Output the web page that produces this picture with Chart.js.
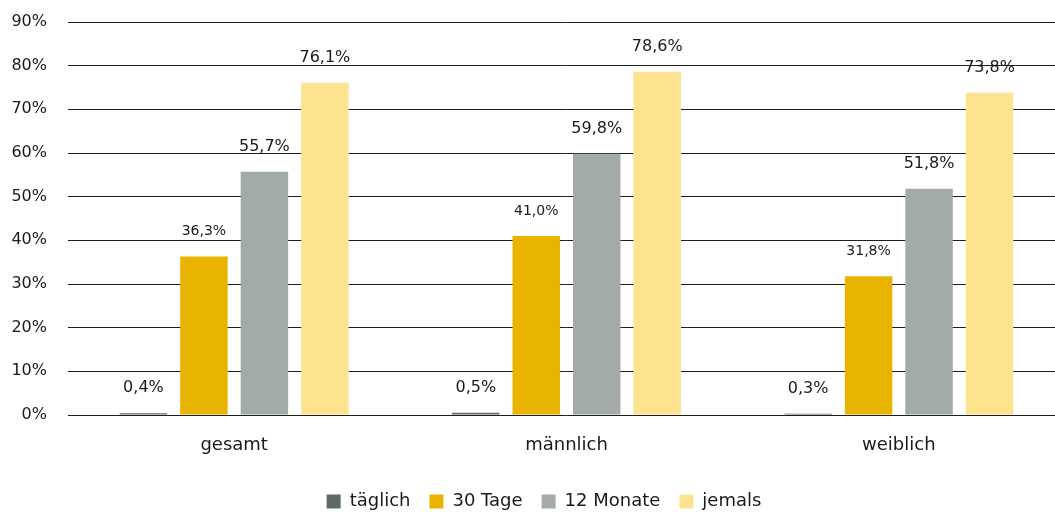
<!DOCTYPE html>
<html lang="de">
<head>
    <meta charset="UTF-8">
    <title>Konsum - gesamt, männlich, weiblich</title>
    <script src="https://cdn.jsdelivr.net/npm/chart.js@4.4.3/dist/chart.umd.min.js"></script>
    <style>
        html, body { margin: 0; padding: 0; background: #ffffff; overflow: hidden; }
        /* plot runs slightly past the right edge, as in the original */
        .chart-box { width: 1065px; height: 512px; }
    </style>
</head>
<body>
    <div class="chart-box">
        <canvas id="chart"></canvas>
    </div>
    <script>
        // Data
        const categories = ['gesamt', 'männlich', 'weiblich'];
        const seriesNames = ['täglich', '30 Tage', '12 Monate', 'jemals'];
        const taeglich = [0.4, 0.5, 0.3];
        const tage30 = [36.3, 41.0, 31.8];
        const monate12 = [55.7, 59.8, 51.8];
        const jemals = [76.1, 78.6, 73.8];
        const yTicks = [0, 10, 20, 30, 40, 50, 60, 70, 80, 90];

        const colors = ['#5f6b62', '#e8b400', '#a3aba6', '#fde38f'];
        const labelSizes = [16, 14, 16, 16];

        const fmt = (v) => v.toFixed(1).replace('.', ',') + '%';

        // draws the value above every bar
        const valueLabels = {
            id: 'valueLabels',
            afterDatasetsDraw(chart) {
                const ctx = chart.ctx;
                ctx.save();
                ctx.fillStyle = '#1a1a1a';
                ctx.textAlign = 'center';
                ctx.textBaseline = 'middle';
                chart.data.datasets.forEach((ds, i) => {
                    const meta = chart.getDatasetMeta(i);
                    ctx.font = labelSizes[i] + 'px "DejaVu Sans"';
                    meta.data.forEach((bar, j) => {
                        ctx.fillText(fmt(ds.data[j]), bar.x, bar.y - 25);
                    });
                });
                ctx.restore();
            }
        };

        const seriesData = [taeglich, tage30, monate12, jemals];

        new Chart(document.getElementById('chart'), {
            type: 'bar',
            data: {
                labels: categories,
                datasets: seriesNames.map((name, i) => ({
                    label: name,
                    data: seriesData[i],
                    backgroundColor: colors[i],
                    borderWidth: 0,
                    categoryPercentage: 0.728,
                    barPercentage: 0.785
                }))
            },
            options: {
                responsive: true,
                maintainAspectRatio: false,
                animation: false,
                layout: { padding: { top: 22, right: -23, left: 0, bottom: -8.5 } },
                font: { family: '"DejaVu Sans"' },
                scales: {
                    x: {
                        grid: { display: false },
                        border: { display: false },
                        afterFit: (axis) => { axis.height = 58.5; },
                        ticks: {
                            color: '#1a1a1a',
                            font: { family: '"DejaVu Sans"', size: 18 },
                            padding: 12
                        }
                    },
                    y: {
                        min: 0,
                        max: 90,
                        afterBuildTicks: (axis) => { axis.ticks = yTicks.map(v => ({ value: v })); },
                        afterFit: (axis) => {
                            axis.width = 68;
                            axis.paddingTop = 0;
                            axis.paddingBottom = 0;
                        },
                        grid: { color: '#1e1e1e', lineWidth: 1, drawTicks: false },
                        border: { display: false },
                        ticks: {
                            color: '#1a1a1a',
                            font: { family: '"DejaVu Sans"', size: 16 },
                            padding: 21,
                            callback: (v) => v + '%'
                        }
                    }
                },
                plugins: {
                    legend: {
                        position: 'bottom',
                        labels: {
                            color: '#1a1a1a',
                            font: { family: '"DejaVu Sans"', size: 18 },
                            boxWidth: 14,
                            boxHeight: 14,
                            padding: 19
                        }
                    },
                    tooltip: { enabled: false }
                }
            },
            plugins: [valueLabels]
        });
    </script>
</body>
</html>
